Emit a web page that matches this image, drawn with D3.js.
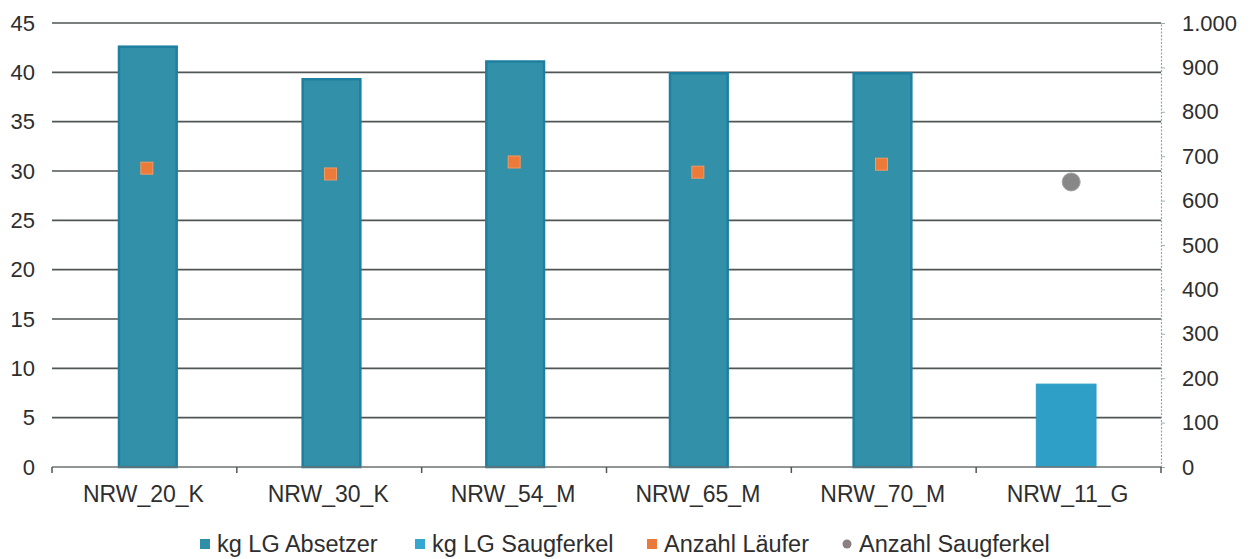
<!DOCTYPE html>
<html>
<head>
<meta charset="utf-8">
<script src="https://cdn.jsdelivr.net/npm/d3@7"></script>
<style>
  html, body { margin: 0; padding: 0; background: #fff; }
  svg { display: block; font-family: "Liberation Sans", Arial, sans-serif; }
</style>
</head>
<body>
<svg id="chart" width="1256" height="559"></svg>
<script>
// Farm categories
const categories = ["NRW_20_K", "NRW_30_K", "NRW_54_M", "NRW_65_M", "NRW_70_M", "NRW_11_G"];

// Live weight in kg (left axis)
const kgAbsetzer    = [42.7, 39.4, 41.2, 40.0, 40.0, null];
const kgSaugferkel  = [null, null, null, null, null, 8.4];

// Animal counts (right axis)
const anzahlLaeufer     = [673, 660, 687, 664, 682, null];
const anzahlSaugferkel  = [null, null, null, null, null, 642];

// Axis ticks
const leftTicks  = [0, 5, 10, 15, 20, 25, 30, 35, 40, 45];
const rightTicks = [0, 100, 200, 300, 400, 500, 600, 700, 800, 900, 1000];

const legendItems = [
  { label: "kg LG Absetzer",    shape: "square", color: "#2f8ea8" },
  { label: "kg LG Saugferkel",  shape: "square", color: "#35a6cf" },
  { label: "Anzahl Läufer",     shape: "square", color: "#ea7a3c" },
  { label: "Anzahl Saugferkel", shape: "circle", color: "#8a8080" }
];

const svg = d3.select("#chart");
const plot = { left: 52, right: 1161, top: 23, bottom: 467 };

// Band scale for the bars (slightly inset from the axis ends)
const x = d3.scaleBand()
  .domain(categories)
  .range([56, 1158])
  .paddingInner(0.675)
  .paddingOuter(0.3375);

// Band scale spanning the full axis, used for separators and labels
const xAxisBand = d3.scaleBand().domain(categories).range([plot.left, plot.right]);

const yLeft = d3.scaleLinear().domain([0, 45]).range([plot.bottom, plot.top]);
const yRight = d3.scaleLinear().domain([0, 1000]).range([plot.bottom, plot.top]);

const textColor = "#2e2e2e";

// Horizontal gridlines
svg.append("g")
  .selectAll("line")
  .data(leftTicks.filter(d => d > 0))
  .join("line")
  .attr("x1", plot.left)
  .attr("x2", plot.right)
  .attr("y1", d => yLeft(d))
  .attr("y2", d => yLeft(d))
  .attr("stroke", "#505556")
  .attr("stroke-width", 1.6);

// Left axis labels
const leftAxis = d3.axisLeft(yLeft).tickValues(leftTicks).tickSize(0).tickPadding(17);
const gl = svg.append("g").attr("transform", `translate(${plot.left},0)`).call(leftAxis);
gl.select(".domain").remove();
gl.selectAll("text")
  .attr("font-size", 22)
  .attr("fill", textColor)
  .attr("font-family", "'Liberation Sans', Arial, sans-serif");

// Right axis: dotted line, short ticks, formatted labels
const fmtDE = d => d >= 1000 ? d3.format(",")(d).replace(/,/g, ".") : String(d);
const rightAxis = d3.axisRight(yRight).tickValues(rightTicks).tickSize(4).tickPadding(17).tickFormat(fmtDE);
const gr = svg.append("g").attr("transform", `translate(${plot.right},0)`).call(rightAxis);
gr.select(".domain")
  .attr("stroke", "#8fa7ab")
  .attr("stroke-width", 1.2)
  .attr("stroke-dasharray", "2,1.5");
gr.selectAll(".tick line").attr("stroke", "#9fb3b6").attr("stroke-width", 1);
gr.selectAll("text")
  .attr("font-size", 22)
  .attr("fill", textColor)
  .attr("font-family", "'Liberation Sans', Arial, sans-serif");

// Bars: kg LG Absetzer
const barData = categories.map((c, i) => ({ c, absetzer: kgAbsetzer[i], saug: kgSaugferkel[i] }));
svg.append("g")
  .selectAll("rect")
  .data(barData.filter(d => d.absetzer != null))
  .join("rect")
  .attr("x", d => x(d.c) + 1)
  .attr("y", d => yLeft(d.absetzer) + 1)
  .attr("width", x.bandwidth() - 2)
  .attr("height", d => plot.bottom - yLeft(d.absetzer) - 1)
  .attr("fill", "#3290a9")
  .attr("stroke", "#1e80a0")
  .attr("stroke-width", 2.5);

// Bars: kg LG Saugferkel
svg.append("g")
  .selectAll("rect")
  .data(barData.filter(d => d.saug != null))
  .join("rect")
  .attr("x", d => x(d.c))
  .attr("y", d => yLeft(d.saug))
  .attr("width", x.bandwidth())
  .attr("height", d => plot.bottom - yLeft(d.saug))
  .attr("fill", "#2ea0c8")
  .attr("stroke", "#2a9cc4")
  .attr("stroke-width", 1);

// Bottom axis line with category separators
const gb = svg.append("g");
gb.append("line")
  .attr("x1", plot.left).attr("x2", plot.right)
  .attr("y1", plot.bottom).attr("y2", plot.bottom)
  .attr("stroke", "#6b7272").attr("stroke-width", 1.6);
const boundaries = categories.map(c => xAxisBand(c)).concat([plot.right]);
gb.selectAll("line.sep")
  .data(boundaries)
  .join("line")
  .attr("class", "sep")
  .attr("x1", d => d).attr("x2", d => d)
  .attr("y1", plot.bottom).attr("y2", plot.bottom + 6)
  .attr("stroke", "#555").attr("stroke-width", 1.5);

// Category labels
gb.selectAll("text")
  .data(categories)
  .join("text")
  .attr("x", d => xAxisBand(d) + xAxisBand.bandwidth() / 2 - 1)
  .attr("y", 502)
  .attr("text-anchor", "middle")
  .attr("font-size", 23)
  .attr("fill", textColor)
  .text(d => d);

// Markers: Anzahl Läufer
const ptData = categories.map((c, i) => ({ c, laeufer: anzahlLaeufer[i], saug: anzahlSaugferkel[i] }));
const sq = 12;
svg.append("g")
  .selectAll("rect")
  .data(ptData.filter(d => d.laeufer != null))
  .join("rect")
  .attr("x", d => x(d.c) + x.bandwidth() / 2 - 1 - sq / 2)
  .attr("y", d => yRight(d.laeufer) - sq / 2)
  .attr("width", sq)
  .attr("height", sq)
  .attr("fill", "#ec7b3a")
  .attr("stroke", "#f29a63")
  .attr("stroke-width", 1);

// Markers: Anzahl Saugferkel
svg.append("g")
  .selectAll("circle")
  .data(ptData.filter(d => d.saug != null))
  .join("circle")
  .attr("cx", d => x(d.c) + x.bandwidth() / 2 + 5)
  .attr("cy", d => yRight(d.saug))
  .attr("r", 9)
  .attr("fill", "#878787")
  .attr("stroke", "#a3a3a3")
  .attr("stroke-width", 1);

// Legend
const legendX = [205, 420, 652, 847];
const lg = svg.append("g");
legendItems.forEach((item, i) => {
  const g = lg.append("g").attr("transform", `translate(${legendX[i]},544)`);
  if (item.shape === "circle") {
    g.append("circle").attr("r", 4.5).attr("fill", item.color);
  } else {
    g.append("rect").attr("x", -5).attr("y", -5).attr("width", 10).attr("height", 10).attr("fill", item.color);
  }
  g.append("text")
    .attr("x", 12)
    .attr("y", 8)
    .attr("font-size", 23.5)
    .attr("fill", textColor)
    .text(item.label);
});
</script>
</body>
</html>
